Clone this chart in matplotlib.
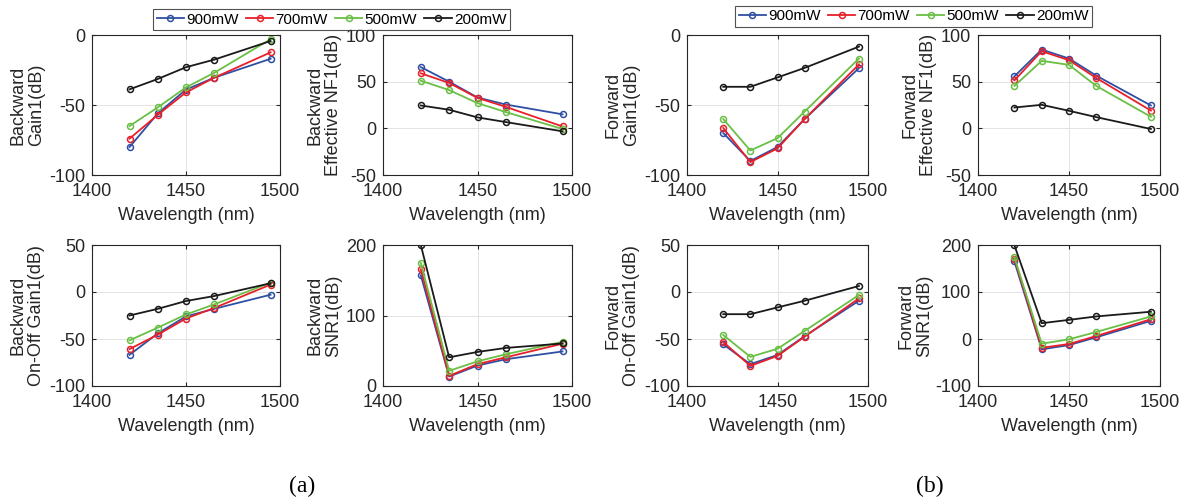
import numpy as np
import matplotlib
matplotlib.use("Agg")
import matplotlib.pyplot as plt

plt.rcParams['font.family'] = ['Liberation Sans', 'DejaVu Sans']
plt.rcParams['axes.unicode_minus'] = False

### data
wavelength = [1420, 1435, 1450, 1465, 1495]
powers = ['900mW', '700mW', '500mW', '200mW']
colors = ['#2f4fa3', '#e8202a', '#6abf45', '#1a1a1a']

bw_gain = [[-80, -56, -39, -30.5, -17],
           [-74, -57, -41, -30.5, -12.4],
           [-65, -51.7, -37.4, -27, -3],
           [-38.8, -31.4, -23, -17.6, -4.3]]
bw_nf = [[65.6, 50, 33, 25.5, 15],
         [59, 48.6, 32.6, 23, 2],
         [51, 41, 27, 17.4, -0.7],
         [24.5, 19.9, 11.7, 6.7, -3.2]]
bw_onoff = [[-66.8, -44, -26, -17.9, -2.9],
            [-60.7, -45.4, -28.2, -17, 7.9],
            [-51.4, -37.9, -23.9, -13.2, 10],
            [-25, -17.9, -9.6, -4.3, 9.3]]
bw_snr = [[157, 13.4, 29, 38, 49],
          [165.5, 14.4, 31, 40.7, 60],
          [174.6, 21.5, 35, 45, 62.7],
          [200, 40.7, 48.3, 54, 60.3]]

fw_gain = [[-70, -90, -80, -60, -23.7],
           [-66.4, -90.8, -81, -60, -21],
           [-60, -82.5, -73.7, -54.7, -16.8],
           [-37, -37, -30.3, -23.5, -8.3]]
fw_nf = [[55.7, 84.4, 74.8, 56.4, 24.5],
         [51.4, 82.6, 73, 53.9, 19],
         [45.4, 72.3, 68, 45.4, 12.4],
         [22.3, 25.2, 18.8, 12, -0.7]]
fw_onoff = [[-55.7, -76.8, -67, -47, -9.3],
            [-53.2, -78.6, -68, -47.5, -6.8],
            [-45.7, -69, -60.4, -41.4, -3.2],
            [-23.6, -23.6, -16.4, -9.3, 6.4]]
fw_snr = [[165, -22, -13, 3.6, 38.6],
          [171, -18.6, -10.7, 6.4, 42],
          [174, -10, -0.7, 15, 48],
          [199.5, 33.6, 40.7, 48, 58]]
###---------------------------------------------------------------------

W, H = 1185, 504
fig = plt.figure(figsize=(W / 100, H / 100), dpi=100)


def px_axes(x0, x1, y0, y1):
    return fig.add_axes([x0 / W, 1 - y1 / H, (x1 - x0) / W, (y1 - y0) / H])


panels = [
    # (x0, x1, y0, y1, data, ylabel, ylim, yticks, ylabel offset px)
    (92, 280, 35, 175, bw_gain, 'Backward\nGain1(dB)', (-100, 0), [-100, -50, 0], -65),
    (383, 572, 35, 175, bw_nf, 'Backward\nEffective NF1(dB)', (-50, 100), [-50, 0, 50, 100], -59),
    (687, 868, 35, 175, fw_gain, 'Forward\nGain1(dB)', (-100, 0), [-100, -50, 0], -65),
    (978, 1160, 35, 175, fw_nf, 'Forward\nEffective NF1(dB)', (-50, 100), [-50, 0, 50, 100], -59),
    (92, 280, 245, 386, bw_onoff, 'Backward\nOn-Off Gain1(dB)', (-100, 50), [-100, -50, 0, 50], -65),
    (383, 572, 245, 386, bw_snr, 'Backward\nSNR1(dB)', (0, 200), [0, 100, 200], -59),
    (687, 868, 245, 386, fw_onoff, 'Forward\nOn-Off Gain1(dB)', (-100, 50), [-100, -50, 0, 50], -65),
    (978, 1160, 245, 386, fw_snr, 'Forward\nSNR1(dB)', (-100, 200), [-100, 0, 100, 200], -63),
]

axes = []
for x0, x1, y0, y1, data, ylab, ylim, yticks, yoff in panels:
    ax = px_axes(x0, x1, y0, y1)
    for vals, lab, c in zip(data, powers, colors):
        ax.plot(wavelength, vals, color=c, lw=1.3, marker='o', ms=4.3,
                mfc='none', mew=1.1, label=lab)
    ax.set_xlim(1400, 1500)
    ax.set_ylim(*ylim)
    ax.set_xticks([1400, 1450, 1500])
    ax.set_yticks(yticks)
    ax.grid(True, color='#e3e3e3', lw=0.7)
    ax.set_axisbelow(True)
    ax.tick_params(direction='in', top=True, right=True, labelsize=13,
                   colors='#262626', length=3)
    ax.tick_params(axis='x', pad=6)
    ax.tick_params(axis='y', pad=5)
    for s in ax.spines.values():
        s.set_color('#262626')
        s.set_linewidth(0.8)
    ax.set_xlabel('Wavelength (nm)', fontsize=13, color='#262626', labelpad=5)
    ax.set_ylabel(ylab, fontsize=13, color='#262626', va='center',
                  linespacing=1.15)
    ax.yaxis.set_label_coords(yoff / (x1 - x0), 0.5)
    axes.append(ax)

handles, labels = axes[0].get_legend_handles_labels()
for cx, cy in [(331.5, 19.5), (913.5, 16.5)]:
    leg = fig.legend(handles, labels, loc='center', ncol=4,
                     bbox_to_anchor=(cx / W, 1 - cy / H), fontsize=11,
                     frameon=True, fancybox=False, handlelength=1.8,
                     handletextpad=0.15, columnspacing=0.45, borderpad=0.25,
                     borderaxespad=0)
    leg.get_frame().set_edgecolor('#262626')
    leg.get_frame().set_linewidth(0.8)

fig.text(302 / W, 1 - 486 / H, '(a)', ha='center', va='center',
         fontsize=17, family='Liberation Serif')
fig.text(930 / W, 1 - 486 / H, '(b)', ha='center', va='center',
         fontsize=17, family='Liberation Serif')

plt.savefig('out.png', dpi=100)
